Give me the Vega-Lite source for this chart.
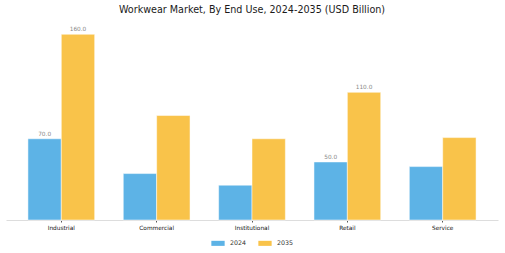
{
  "$schema": "https://vega.github.io/schema/vega-lite/v6.json",
  "autosize": {"type": "none"},
  "padding": {"left": 6, "top": 25, "right": 7, "bottom": 33},
  "width": 492,
  "height": 195,
  "background": "white",
  "title": {"text": "Workwear Market, By End Use, 2024-2035 (USD Billion)", "font": "DejaVu Sans", "fontSize": 9.6, "fontWeight": "normal", "color": "#1a1a1a", "anchor": "middle", "offset": 10},
  "data": {"values": [
    {"use": "Industrial", "year": "2024", "value": 70},
    {"use": "Industrial", "year": "2035", "value": 160},
    {"use": "Commercial", "year": "2024", "value": 40},
    {"use": "Commercial", "year": "2035", "value": 90},
    {"use": "Institutional", "year": "2024", "value": 30},
    {"use": "Institutional", "year": "2035", "value": 70},
    {"use": "Retail", "year": "2024", "value": 50},
    {"use": "Retail", "year": "2035", "value": 110},
    {"use": "Service", "year": "2024", "value": 46},
    {"use": "Service", "year": "2035", "value": 71}
  ]},
  "encoding": {
    "x": {"field": "use", "type": "nominal", "sort": null,
      "scale": {"paddingInner": 0.3, "paddingOuter": 0.23},
      "axis": {"title": null, "labelAngle": 0, "labelFont": "DejaVu Sans", "labelFontSize": 5.8, "labelColor": "#111111", "domainColor": "#dddddd", "tickColor": "#555555", "tickSize": 2, "labelPadding": 2}},
    "xOffset": {"field": "year", "type": "nominal"},
    "y": {"field": "value", "type": "quantitative", "scale": {"domain": [0, 168], "nice": false}, "axis": null}
  },
  "layer": [
    {"mark": {"type": "bar", "stroke": "white", "strokeWidth": 0.5},
     "encoding": {"color": {"field": "year", "type": "nominal",
       "scale": {"domain": ["2024", "2035"], "range": ["#5DB3E6", "#F9C34A"]},
       "legend": {"title": null, "orient": "none", "legendX": 205, "legendY": 211, "direction": "horizontal",
         "symbolType": "M-1,-0.38H1V0.38H-1Z", "symbolSize": 177, "symbolStrokeWidth": 0,
         "labelFont": "DejaVu Sans", "labelFontSize": 6.3, "labelColor": "#333333", "columnPadding": 11, "symbolOffset": 0, "labelOffset": 5}}}},
    {"transform": [{"filter": {"field": "use", "oneOf": ["Industrial", "Retail"]}}],
     "mark": {"type": "text", "dy": -2, "baseline": "bottom", "font": "DejaVu Sans", "fontSize": 5.8, "color": "#888888"},
     "encoding": {"text": {"field": "value", "type": "quantitative", "format": ".1f"}}}
  ],
  "config": {"view": {"stroke": null}}
}
